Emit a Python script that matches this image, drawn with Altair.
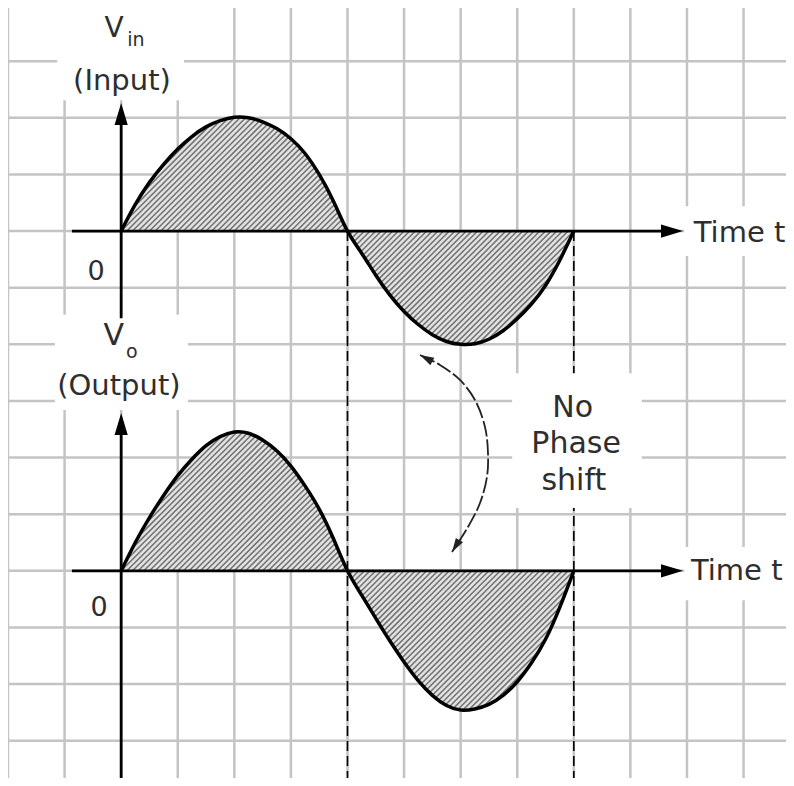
import numpy as np
import pandas as pd
import altair as alt

# ---- data (unit = one grid cell; y up) ----
wave_u = [0, 0.25, 0.5, 0.75, 1.0, 1.25, 1.5, 1.75, 2.0, 2.25, 2.5, 2.75, 3.0, 3.25, 3.5, 3.75,
          4.0, 4.25, 4.5, 4.75, 5.0, 5.25, 5.5, 5.75, 6.0, 6.25, 6.5, 6.75, 7.0, 7.25, 7.5, 7.75, 8.0]
vin_v = [0, 0.47, 0.86, 1.18, 1.45, 1.67, 1.84, 1.95, 2.01, 2.0, 1.93, 1.81, 1.63, 1.37, 1.0, 0.53,
         0, -0.39, -0.78, -1.13, -1.42, -1.65, -1.83, -1.95, -2.0, -1.99, -1.91, -1.76, -1.55, -1.29, -0.96, -0.52, 0]
vo_v = [0, 0.5, 0.94, 1.33, 1.68, 1.97, 2.21, 2.37, 2.45, 2.43, 2.31, 2.12, 1.85, 1.5, 1.09, 0.57,
        0, -0.43, -0.84, -1.24, -1.61, -1.94, -2.2, -2.38, -2.46, -2.44, -2.36, -2.2, -1.96, -1.63, -1.21, -0.65, 0]
VIN_BASE = 0.0
VO_BASE = -6.0

grid_x = list(range(-2, 12))
grid_y = list(range(-9, 4))
dashed_x = [4, 8]

arc_u = [5.281, 5.634, 5.988, 6.253, 6.430, 6.483, 6.465, 6.342, 6.130, 5.847]
arc_v = [-2.188, -2.365, -2.630, -2.983, -3.460, -3.919, -4.343, -4.802, -5.226, -5.668]

labels_center = [
    ("V", -0.125, 3.43, 28), ("in", 0.26, 3.27, 19), ("(Input)", 0.014, 2.49, 29),
    ("0", -0.445, -0.86, 27),
    ("V", -0.13, -2.01, 30), ("o", 0.19, -2.24, 19), ("(Output)", -0.04, -2.89, 29),
    ("No", 7.98, -3.28, 30), ("Phase", 8.04, -3.92, 30), ("shift", 8.0, -4.57, 30),
    ("0", -0.39, -6.80, 27),
]
labels_left = [("Time t", 10.12, -0.19, 29), ("Time t", 10.07, -6.16, 29)]

# white label backgrounds (u0, u1, v0, v1)
boxes = [(-1.13, 1.11, 2.31, 3.94), (9.95, 11.75, -0.44, 0.44), (-1.17, 1.18, -3.16, -1.48),
         (6.91, 9.20, -4.89, -2.51), (9.95, 11.75, -6.52, -5.58)]

XS = alt.Scale(domain=[-2.0, 11.75], nice=False, zero=False)
YS = alt.Scale(domain=[-9.66, 3.94], nice=False, zero=False)


def X(f):
    return alt.X(f, type="quantitative", scale=XS, axis=None)


def Y(f):
    return alt.Y(f, type="quantitative", scale=YS, axis=None)


def hatch(u_pts, v_pts, base, step=0.1):
    uu = np.linspace(u_pts[0], u_pts[-1], 8001)
    ff = np.interp(uu, u_pts, v_pts)
    lo = np.minimum(ff, 0)
    hi = np.maximum(ff, 0)
    cmin = uu[0] - hi.max()
    cmax = uu[-1] - lo.min()
    rows = []
    for k in range(int(np.floor(cmin / step)) - 1, int(np.ceil(cmax / step)) + 2):
        c = k * step
        lv = uu - c
        inside = (lv >= lo) & (lv <= hi)
        if not inside.any():
            continue
        d = np.diff(np.concatenate([[0], inside.astype(int), [0]]))
        starts = np.flatnonzero(d == 1)
        ends = np.flatnonzero(d == -1) - 1
        for s, e in zip(starts, ends):
            if e - s < 3:
                continue
            rows.append({"x": uu[s], "y": uu[s] - c + base, "x2": uu[e], "y2": uu[e] - c + base})
    return pd.DataFrame(rows)


waves = pd.concat([
    pd.DataFrame({"u": wave_u, "v": np.array(vin_v) + VIN_BASE, "b": VIN_BASE, "w": "in"}),
    pd.DataFrame({"u": wave_u, "v": np.array(vo_v) + VO_BASE, "b": VO_BASE, "w": "out"}),
])
hatch_df = pd.concat([hatch(wave_u, vin_v, VIN_BASE), hatch(wave_u, vo_v, VO_BASE)])

layers = []
# grid
layers.append(alt.Chart(pd.DataFrame({"g": grid_x})).mark_rule(color="#c4c4c4", strokeWidth=2.5).encode(x=X("g")))
layers.append(alt.Chart(pd.DataFrame({"g": grid_y})).mark_rule(color="#c4c4c4", strokeWidth=2.5).encode(y=Y("g")))
# dashed projection lines
layers.append(alt.Chart(pd.DataFrame({"u": dashed_x, "v0": 0.0, "v1": -9.66})).mark_rule(
    color="black", strokeWidth=1.6, strokeDash=[10, 5]).encode(x=X("u"), y=Y("v0"), y2="v1"))
# white boxes
bdf = pd.DataFrame(boxes, columns=["u0", "u1", "v0", "v1"])
layers.append(alt.Chart(bdf).mark_rect(color="white").encode(x=X("u0"), x2="u1", y=Y("v0"), y2="v1"))
# areas + hatch
for name in ["in", "out"]:
    layers.append(alt.Chart(waves[waves.w == name]).mark_area(
        color="#e2e2e2", interpolate="natural", opacity=1).encode(x=X("u"), y=Y("v"), y2="b"))
layers.append(alt.Chart(hatch_df).mark_rule(color="#707070", strokeWidth=1.5).encode(
    x=X("x"), y=Y("y"), x2="x2", y2="y2"))
# curves
for name in ["in", "out"]:
    layers.append(alt.Chart(waves[waves.w == name]).mark_line(
        color="black", strokeWidth=3.5, interpolate="natural").encode(x=X("u"), y=Y("v")))
# axes
haxes = pd.DataFrame({"u0": [-0.87, -0.87], "u1": [9.6, 9.6], "v": [0.0, -6.0]})
vaxes = pd.DataFrame({"u": [0.0, 0.0], "v0": [-1.54, -9.66], "v1": [2.0, -3.45]})
layers.append(alt.Chart(haxes).mark_rule(color="black", strokeWidth=2.8).encode(x=X("u0"), x2="u1", y=Y("v")))
layers.append(alt.Chart(vaxes).mark_rule(color="black", strokeWidth=2.8).encode(x=X("u"), y=Y("v0"), y2="v1"))
ARROW = "M0,0L-2,-0.6L-2,0.6Z"
tips_h = pd.DataFrame({"u": [9.93, 9.93], "v": [0.0, -6.0]})
tips_v = pd.DataFrame({"u": [0.0, 0.0], "v": [2.26, -3.215]})
layers.append(alt.Chart(tips_h).mark_point(shape=ARROW, filled=True, size=484, color="black", opacity=1)
              .encode(x=X("u"), y=Y("v")))
layers.append(alt.Chart(tips_v).mark_point(shape=ARROW, filled=True, size=484, color="black", opacity=1, angle=270)
              .encode(x=X("u"), y=Y("v")))
# curved double arrow
arc = pd.DataFrame({"u": arc_u, "v": arc_v, "i": range(len(arc_u))})
layers.append(alt.Chart(arc).mark_line(color="#222", strokeWidth=1.8, interpolate="catmull-rom",
                                       strokeDash=[16, 3]).encode(x=X("u"), y=Y("v"), order="i:Q"))
layers.append(alt.Chart(arc.iloc[[0]]).mark_point(shape=ARROW, filled=True, size=196, color="#222",
                                                  opacity=1, angle=208).encode(x=X("u"), y=Y("v")))
layers.append(alt.Chart(arc.iloc[[-1]]).mark_point(shape=ARROW, filled=True, size=196, color="#222",
                                                   opacity=1, angle=122).encode(x=X("u"), y=Y("v")))
# text
tc = pd.DataFrame(labels_center, columns=["t", "u", "v", "s"])
tl = pd.DataFrame(labels_left, columns=["t", "u", "v", "s"])
layers.append(alt.Chart(tc).mark_text(font="DejaVu Sans", color="#2e2e2e", align="center", baseline="alphabetic")
              .encode(x=X("u"), y=Y("v"), text="t:N", size=alt.Size("s:Q", scale=None, legend=None)))
layers.append(alt.Chart(tl).mark_text(font="DejaVu Sans", color="#2e2e2e", align="left", baseline="alphabetic")
              .encode(x=X("u"), y=Y("v"), text="t:N", size=alt.Size("s:Q", scale=None, legend=None)))

chart = alt.layer(*layers).properties(
    width=778, height=770, autosize=alt.AutoSizeParams(type="none"), padding=0,
    background="white"
).configure_view(stroke=None)

chart.save("out.html", embed_options={"renderer": "svg", "actions": False})
